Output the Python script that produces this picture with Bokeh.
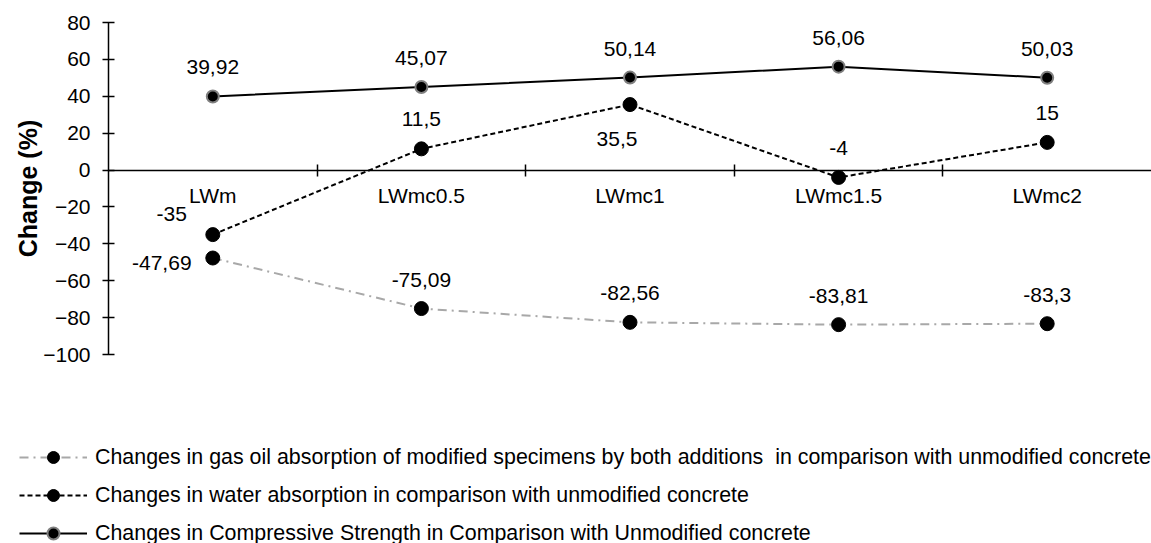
import numpy as np
from bokeh.plotting import figure
from bokeh.layouts import column
from bokeh.models import (ColumnDataSource, Range1d, LinearAxis, FixedTicker, LabelSet,
                          Legend, LegendItem)
from bokeh.core.properties import value
from bokeh.embed import file_html
from bokeh.resources import INLINE

# ---- data ----
categories = ["LWm", "LWmc0.5", "LWmc1", "LWmc1.5", "LWmc2"]
gas_oil = [-47.69, -75.09, -82.56, -83.81, -83.3]
water = [-35, 11.5, 35.5, -4, 15]
strength = [39.92, 45.07, 50.14, 56.06, 50.03]
y_ticks = [-100, -80, -60, -40, -20, 0, 20, 40, 60, 80]
legend_labels = [
    "Changes in gas oil absorption of modified specimens by both additions  in comparison with unmodified concrete",
    "Changes in water absorption in comparison with unmodified concrete",
    "Changes in Compressive Strength in Comparison with Unmodified concrete",
]
y_title = "Change (%)"

FONT = "Liberation Sans"
W = 1151
H_MAIN, H_LEG = 400, 143

n = len(categories)
xpos = [i + 0.5 for i in range(n)]          # category centres on a 0..n slot axis
bounds = [i for i in range(1, n)]            # boundaries between categories


def fmt(v):
    return f"{v:g}".replace(".", ",")


p = figure(x_range=Range1d(0, n), y_range=Range1d(-100, 80),
           width=W, height=H_MAIN, output_backend="svg", toolbar_location=None,
           x_axis_location=None, y_axis_location=None,
           min_border_left=108, min_border_right=0, min_border_top=22,
           min_border_bottom=H_MAIN - 22 - 332)
p.frame_align = False
p.grid.visible = False
p.outline_line_color = None
p.background_fill_color = "white"
p.border_fill_color = "white"

# y axis
yax = LinearAxis(ticker=FixedTicker(ticks=y_ticks), axis_label=y_title,
                 axis_label_text_font=FONT, axis_label_text_font_size="25px",
                 axis_label_text_font_style="bold", axis_label_text_color="black",
                 axis_label_standoff=-2,
                 major_label_text_font=FONT, major_label_text_font_size="21px",
                 major_label_text_color="black", major_label_standoff=12,
                 major_tick_in=6, major_tick_out=6, minor_tick_line_color=None,
                 axis_line_width=1.5, major_tick_line_width=1.5)
p.add_layout(yax, "left")

# x axis drawn at y = 0: labels at category centres, ticks between categories
xax = LinearAxis(ticker=FixedTicker(ticks=xpos, minor_ticks=bounds), fixed_location=0,
                 major_label_overrides={x: c for x, c in zip(xpos, categories)},
                 major_tick_line_color=None, major_tick_out=0, major_tick_in=0,
                 minor_tick_in=6, minor_tick_out=6, minor_tick_line_color="black",
                 minor_tick_line_width=1.5, axis_line_width=1.5,
                 major_label_standoff=8,
                 major_label_text_font=FONT, major_label_text_font_size="21px",
                 major_label_text_color="black")
p.add_layout(xax, "below")

src = ColumnDataSource(dict(x=xpos, gas=gas_oil, water=water, strength=strength))

GAS_STYLE = dict(line_color="#A8A8A8", line_width=2, line_dash="9 5 2 5")
WAT_STYLE = dict(line_color="black", line_width=2, line_dash="5 3")
STR_STYLE = dict(line_color="black", line_width=2)
PT_STYLE = dict(fill_color="black", line_color="black")
STR_PT_STYLE = dict(fill_color="black", line_color="#808080", line_width=2)

p.line("x", "gas", source=src, **GAS_STYLE)
p.scatter("x", "gas", source=src, size=14, **PT_STYLE)
p.line("x", "water", source=src, **WAT_STYLE)
p.scatter("x", "water", source=src, size=14, **PT_STYLE)
p.line("x", "strength", source=src, **STR_STYLE)
p.scatter("x", "strength", source=src, size=12, **STR_PT_STYLE)

# data labels (offsets in screen px, positive = up)
label_specs = [
    (gas_oil, [-51, 0, 0, 0, 0], [-5, 29, 29, 29, 29]),
    (water, [-41, 0, -13, 0, 0], [21, 30, -34, 29, 29]),
    (strength, [0, 0, 0, 0, 0], [29, 29, 29, 29, 29]),
]
for vals, xo, yo in label_specs:
    ls = ColumnDataSource(dict(x=xpos, y=vals, t=[fmt(v) for v in vals], xo=xo, yo=yo))
    p.add_layout(LabelSet(x="x", y="y", text="t", x_offset="xo", y_offset="yo", source=ls,
                          text_font=value(FONT), text_font_size="21px", text_color="black",
                          text_align="center", text_baseline="middle"))

# ---- legend strip below the chart ----
lf = figure(x_range=Range1d(0, n), y_range=Range1d(-100, 80), width=W, height=H_LEG,
            output_backend="svg", toolbar_location=None,
            x_axis_location=None, y_axis_location=None,
            min_border_left=0, min_border_right=0, min_border_top=0, min_border_bottom=0)
lf.frame_align = False
lf.grid.visible = False
lf.outline_line_color = None
lf.background_fill_color = "white"
lf.border_fill_color = "white"

g1 = lf.line("x", "gas", source=src, visible=False, **GAS_STYLE)
g2 = lf.scatter("x", "gas", source=src, visible=False, **PT_STYLE)
w1 = lf.line("x", "water", source=src, visible=False, **WAT_STYLE)
w2 = lf.scatter("x", "water", source=src, visible=False, **PT_STYLE)
s1 = lf.line("x", "strength", source=src, visible=False, **STR_STYLE)
s2 = lf.scatter("x", "strength", source=src, visible=False, **STR_PT_STYLE)

legend = Legend(items=[
    LegendItem(label=legend_labels[0], renderers=[g1, g2]),
    LegendItem(label=legend_labels[1], renderers=[w1, w2]),
    LegendItem(label=legend_labels[2], renderers=[s1, s2]),
], location=(19, -5), glyph_width=68, glyph_height=30, label_height=30,
    label_standoff=8, spacing=8, padding=0, margin=0, border_line_color=None,
    background_fill_alpha=0, label_text_font=FONT, label_text_font_size="21.4px",
    label_text_color="black")
lf.add_layout(legend)

layout = column(p, lf, spacing=0)
open("out.html", "w").write(file_html(layout, INLINE))
